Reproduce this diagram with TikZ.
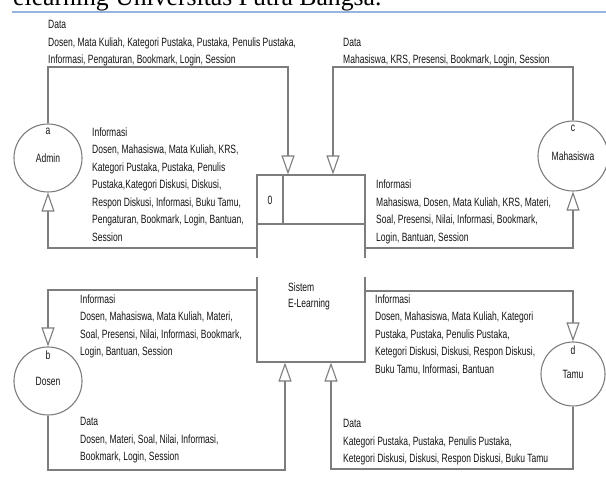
\documentclass[tikz,border=0pt]{standalone}
\usepackage{fontspec}
\usepackage{tikz}
\usetikzlibrary{arrows.meta}

\newfontfamily\dfdfont[FakeStretch=0.71]{Liberation Sans}
\newfontfamily\judulfont{Liberation Serif}
\definecolor{garisabu}{RGB}{125,125,125}
\definecolor{birugaris}{RGB}{150,180,222}
\definecolor{tulisan}{RGB}{20,20,20}

\tikzset{
    alur/.style={draw=garisabu, line width=1.1pt, -{Triangle[open, length=19pt, width=13pt, fill=white]}},
    entitas/.style={circle, draw=garisabu, line width=1.1pt, inner sep=0pt, text=tulisan, font=\dfdfont\fontsize{12}{14}\selectfont},
    kodelabel/.style={anchor=north, inner sep=0pt, yshift=-4pt, text=tulisan, font=\dfdfont\fontsize{12}{14}\selectfont},
    teks/.style={anchor=north west, align=left, inner sep=0pt, text=tulisan, font=\dfdfont\fontsize{12}{17.5}\selectfont}
}

\begin{document}
\begin{tikzpicture}[x=1pt, y=-1pt]
    % 0. BATAS GAMBAR
    \useasboundingbox (0,0) rectangle (606,478);
    \clip (0,0) rectangle (606,478);

    % 1. JUDUL HALAMAN (TERPOTONG)
    \draw[birugaris, line width=2.5pt] (12,12) -- (606,12);
    \node[anchor=base west, inner sep=0pt, font=\judulfont\fontsize{25.7}{30}\selectfont] (judul) at (13,6) {elearning Universitas Putra Bangsa.};

    % 2. PROSES UTAMA
    \node[draw=garisabu, line width=1.1pt, minimum width=108pt, minimum height=187pt, inner sep=0pt] (proses) at (311,268.5) {};
    \coordinate (bagi) at (283,224);
    \draw[garisabu, line width=1.1pt] (proses.west |- bagi) -- (proses.east |- bagi);
    \draw[garisabu, line width=1.1pt] (bagi |- proses.north) -- (bagi);
    \node[text=tulisan, font=\dfdfont\fontsize{12}{14}\selectfont] (nomor) at (270,200) {0};
    \node[teks, font=\dfdfont\fontsize{12}{16}\selectfont] (namaproses) at (288,282.5) {Sistem\\E-Learning};
    \fill[white] (253,258) rectangle (260,277);
    \fill[white] (362,258) rectangle (369,277);

    % 3. ENTITAS LUAR
    \foreach \nama/\x/\y/\ukuran/\kode/\isi in {
        admin/48/158/68/a/Admin, mahasiswa/573/156/70/c/Mahasiswa,
        dosen/48/381/68/b/Dosen, tamu/573/374/64/d/Tamu
    } {
        \node[entitas, minimum size=\ukuran pt, label={[kodelabel]north:\kode}] (\nama) at (\x,\y) {\isi};
    }

    % 4. ALIRAN DATA
    \coordinate (a1) at (48,67);
    \coordinate (a2) at (288,67);
    \draw[alur] (admin.north) -- (a1) -- (a2) -- (a2 |- proses.north);
    \coordinate (c1) at (573,67);
    \coordinate (c2) at (333,67);
    \draw[alur] (mahasiswa.north) -- (c1) -- (c2) -- (c2 |- proses.north);
    \coordinate (a3) at (48,248);
    \draw[alur] (proses.west |- a3) -- (a3) -- (admin.south);
    \coordinate (c3) at (573,248);
    \draw[alur] (proses.east |- c3) -- (c3) -- (mahasiswa.south);
    \coordinate (b1) at (48,290);
    \draw[alur] (proses.west |- b1) -- (b1) -- (dosen.north);
    \coordinate (b2) at (48,470);
    \coordinate (b3) at (285,470);
    \draw[alur] (dosen.south) -- (b2) -- (b3) -- (b3 |- proses.south);
    \coordinate (d1) at (573,291);
    \draw[alur] (proses.east |- d1) -- (d1) -- (tamu.north);
    \coordinate (d2) at (573,469);
    \coordinate (d3) at (331,469);
    \draw[alur] (tamu.south) -- (d2) -- (d3) -- (d3 |- proses.south);

    % 5. KETERANGAN ALIRAN
    \node[teks] (dataadmin) at (48,20.5) {Data\\Dosen, Mata Kuliah, Kategori Pustaka, Pustaka, Penulis Pustaka,\\Informasi, Pengaturan, Bookmark, Login, Session};
    \node[teks] (infoadmin) at (92,127.5) {Informasi\\Dosen, Mahasiswa, Mata Kuliah, KRS,\\Kategori Pustaka, Pustaka, Penulis\\Pustaka,Kategori Diskusi, Diskusi,\\Respon Diskusi, Informasi, Buku Tamu,\\Pengaturan, Bookmark, Login, Bantuan,\\Session};
    \node[teks] (datamhs) at (343,38) {Data\\Mahasiswa, KRS, Presensi, Bookmark, Login, Session};
    \node[teks] (infomhs) at (376,180) {Informasi\\Mahasiswa, Dosen, Mata Kuliah, KRS, Materi,\\Soal, Presensi, Nilai, Informasi, Bookmark,\\Login, Bantuan, Session};
    \node[teks] (infodosen) at (80,294.5) {Informasi\\Dosen, Mahasiswa, Mata Kuliah, Materi,\\Soal, Presensi, Nilai, Informasi, Bookmark,\\Login, Bantuan, Session};
    \node[teks] (datadosen) at (80,417.5) {Data\\Dosen, Materi, Soal, Nilai, Informasi,\\Bookmark, Login, Session};
    \node[teks] (infotamu) at (375,294.5) {Informasi\\Dosen, Mahasiswa, Mata Kuliah, Kategori\\Pustaka, Pustaka, Penulis Pustaka,\\Ketegori Diskusi, Diskusi, Respon Diskusi,\\Buku Tamu, Informasi, Bantuan};
    \node[teks] (datatamu) at (343,419.5) {Data\\Kategori Pustaka, Pustaka, Penulis Pustaka,\\Ketegori Diskusi, Diskusi, Respon Diskusi, Buku Tamu};
\end{tikzpicture}
\end{document}
